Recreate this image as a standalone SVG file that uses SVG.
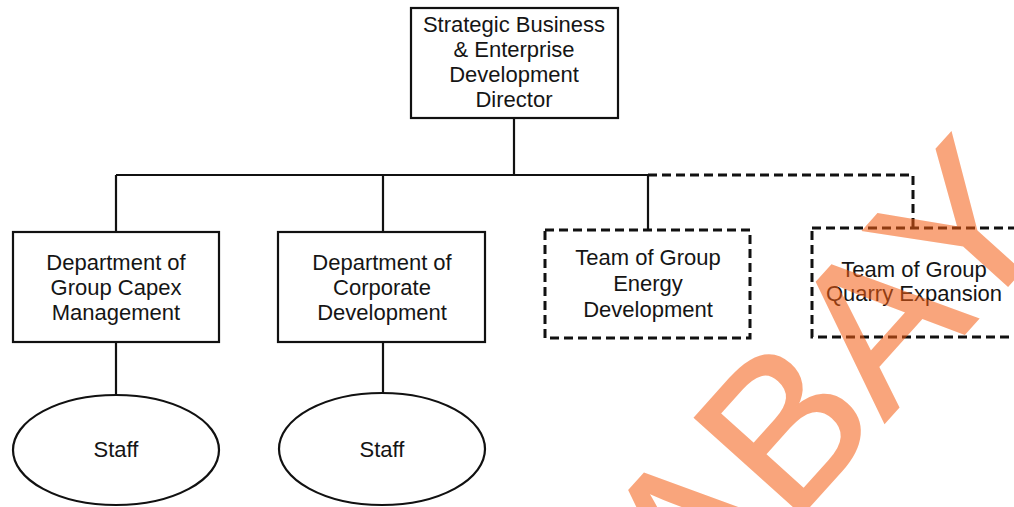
<svg xmlns="http://www.w3.org/2000/svg" width="1014" height="507" viewBox="0 0 1014 507">
<style>
.box{fill:#fff;stroke:#111;stroke-width:2.2}
.dbox{fill:#fff;stroke:#111;stroke-width:3;stroke-dasharray:9 5}
.ln{fill:none;stroke:#111;stroke-width:2.2}
.dln{fill:none;stroke:#111;stroke-width:3;stroke-dasharray:9 5}
.t{font-family:"Liberation Sans",Arial,sans-serif;font-size:22px;fill:#151515;text-anchor:middle}
.wm{font-family:"Liberation Sans",Arial,sans-serif;font-size:210px;fill:#F55D12;stroke:#F55D12;stroke-width:2;opacity:0.55}
</style>
<rect width="1014" height="507" fill="#fff"/>
<g id="connectors">
<path class="ln" d="M514 118V175M116 175H648M116 175V232M383 175V232M648 175V230M116 342V395M383 342V393"/>
<path class="dln" d="M648 175H913V228"/>
</g>
<g id="director">
<rect class="box" x="411" y="8" width="207" height="110"/>
<text class="t" x="514" y="32">Strategic Business</text>
<text class="t" x="514" y="57">&amp; Enterprise</text>
<text class="t" x="514" y="82">Development</text>
<text class="t" x="514" y="107">Director</text>
</g>
<g id="capex">
<rect class="box" x="13" y="232" width="206" height="110"/>
<text class="t" x="116" y="270">Department of</text>
<text class="t" x="116" y="295">Group Capex</text>
<text class="t" x="116" y="320">Management</text>
</g>
<g id="corporate">
<rect class="box" x="278" y="232" width="207" height="110"/>
<text class="t" x="382" y="270">Department of</text>
<text class="t" x="382" y="295">Corporate</text>
<text class="t" x="382" y="320">Development</text>
</g>
<g id="energy">
<rect class="dbox" x="545" y="230" width="205" height="108"/>
<text class="t" x="648" y="265">Team of Group</text>
<text class="t" x="648" y="291">Energy</text>
<text class="t" x="648" y="317">Development</text>
</g>
<g id="quarry">
<rect class="dbox" x="812" y="228" width="240" height="109"/>
<text class="t" x="914" y="277">Team of Group</text>
<text class="t" x="914" y="301">Quarry Expansion</text>
</g>
<g id="staff1">
<ellipse class="box" cx="116" cy="450" rx="103" ry="55"/>
<text class="t" x="116" y="457">Staff</text>
</g>
<g id="staff2">
<ellipse class="box" cx="382" cy="449" rx="103" ry="56"/>
<text class="t" x="382" y="457">Staff</text>
</g>
<text class="wm" x="697" y="631" transform="rotate(-48 697 631)">ABAY</text>
</svg>
